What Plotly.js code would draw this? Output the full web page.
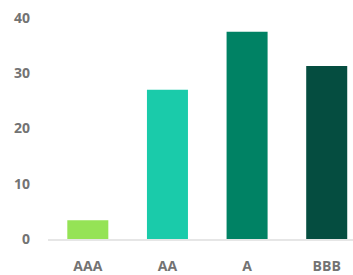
<!DOCTYPE html>
<html>
<head>
<meta charset="utf-8">
<script src="https://cdn.plot.ly/plotly-3.0.1.min.js"></script>
<style>html,body{margin:0;padding:0;background:#fff;}#chart{width:353px;height:275px;}</style>
</head>
<body>
<div id="chart"></div>
<script>
const categories = ["AAA", "AA", "A", "BBB"];
const values = [3.4, 27.0, 37.5, 31.3];
const colors = ["#95e356", "#1acbaa", "#008264", "#054d40"];
const yTicks = [0, 10, 20, 30, 40];

const trace = {
  type: "bar",
  x: categories,
  y: values,
  marker: { color: colors, line: { width: 0 } },
  hoverinfo: "none"
};

const layout = {
  width: 353,
  height: 275,
  margin: { l: 48, r: 0, t: 7, b: 36 },
  paper_bgcolor: "#ffffff",
  plot_bgcolor: "#ffffff",
  showlegend: false,
  bargap: 0.485,
  font: { family: "Open Sans", color: "#737373" },
  xaxis: {
    type: "category",
    range: [-0.5, 3.33],
    showgrid: false,
    zeroline: false,
    showline: true,
    linecolor: "#e6e6e6",
    linewidth: 2,
    ticks: "",
    ticklabelstandoff: 13,
    tickfont: { family: "Open Sans", size: 14, color: "#737373", weight: "bold" },
    fixedrange: true
  },
  yaxis: {
    range: [0, 42],
    tickvals: yTicks,
    ticktext: yTicks.map(String),
    showgrid: false,
    zeroline: false,
    showline: false,
    ticks: "",
    ticklabelstandoff: 17,
    tickfont: { family: "Open Sans", size: 14, color: "#737373", weight: "bold" },
    fixedrange: true
  }
};

Plotly.newPlot("chart", [trace], layout, { displayModeBar: false, staticPlot: true });
</script>
</body>
</html>
